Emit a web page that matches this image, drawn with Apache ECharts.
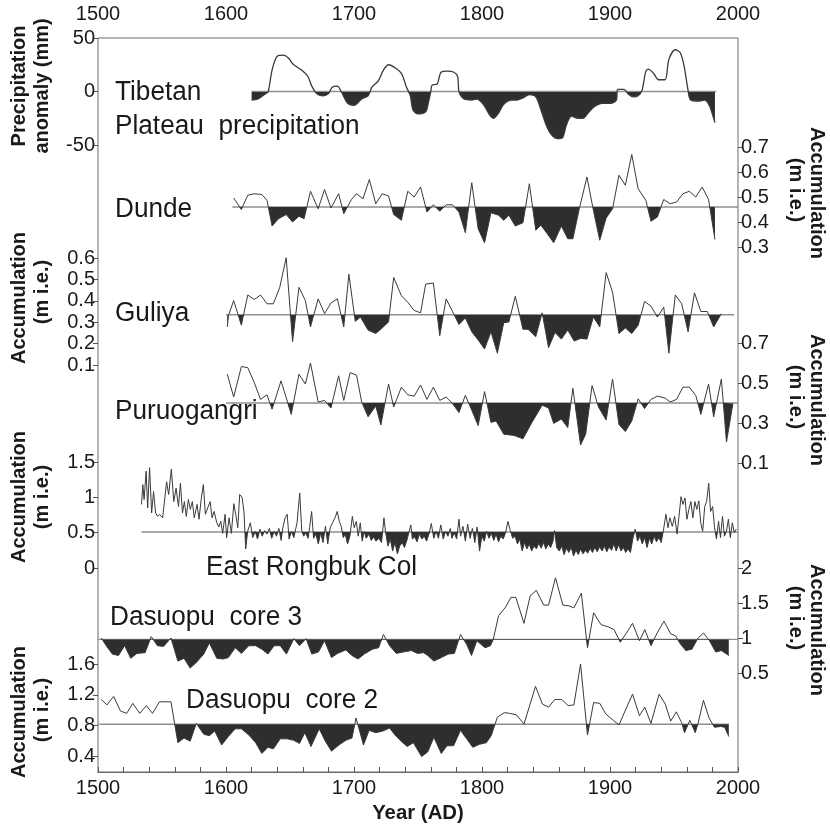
<!DOCTYPE html>
<html><head><meta charset="utf-8">
<script src="https://cdn.jsdelivr.net/npm/echarts@6/dist/echarts.min.js"></script>
<style>html,body{margin:0;padding:0;background:#fff}#c{width:830px;height:827px}</style>
</head><body><div id="c"></div>
<script>
// ---------------- DATA (year, value) ----------------
const tibetan = [[1620,-8],[1625,-7],[1631,-2],[1633,0],[1636,20],[1640,33],[1645,34],[1649,31],[1652,26],[1659,20],[1664,14],[1667,5],[1671,-2],[1676,-4],[1680,-2],[1683,4],[1687,5],[1690,0],[1695,-11],[1700,-13],[1706,-7],[1711,-4],[1714,4],[1719,10],[1723,20],[1727,25],[1731,23],[1737,17],[1741,4],[1744,-4],[1746,-17],[1750,-21],[1756,-19],[1758,-11],[1760,0],[1761,6],[1765,7],[1768,18],[1773,19],[1778,18],[1781,14],[1782,0],[1786,-7],[1792,-8],[1796,-7],[1801,-12],[1806,-22],[1809,-25],[1813,-20],[1817,-12],[1823,-8],[1827,-8],[1832,-6],[1837,-3],[1842,-5],[1846,-17],[1850,-31],[1854,-40],[1859,-44],[1863,-43],[1866,-31],[1870,-23],[1875,-25],[1879,-25],[1883,-20],[1888,-14],[1894,-11],[1901,-11],[1905,-8],[1906,2],[1911,2],[1914,-2],[1918,-5],[1922,-4],[1925,1],[1928,19],[1930,21],[1934,17],[1938,11],[1943,11],[1946,30],[1951,39],[1955,36],[1958,23],[1961,1],[1963,-8],[1969,-9],[1974,-8],[1978,-14],[1982,-29]];

const dunde = [[1606,0.496],[1612,0.45],[1617,0.507],[1622,0.513],[1628,0.51],[1632,0.487],[1636,0.384],[1641,0.413],[1647,0.43],[1652,0.40],[1657,0.423],[1661,0.413],[1666,0.523],[1672,0.453],[1677,0.53],[1682,0.456],[1688,0.513],[1692,0.433],[1698,0.49],[1702,0.513],[1707,0.493],[1712,0.57],[1717,0.473],[1722,0.513],[1727,0.504],[1731,0.43],[1737,0.407],[1742,0.523],[1747,0.5],[1752,0.54],[1757,0.44],[1762,0.469],[1767,0.443],[1772,0.469],[1777,0.469],[1782,0.44],[1787,0.357],[1792,0.557],[1797,0.373],[1802,0.317],[1807,0.437],[1813,0.427],[1817,0.407],[1821,0.427],[1826,0.384],[1832,0.397],[1837,0.553],[1842,0.367],[1846,0.387],[1851,0.353],[1856,0.317],[1862,0.384],[1867,0.333],[1871,0.333],[1876,0.453],[1882,0.58],[1887,0.447],[1892,0.327],[1897,0.416],[1902,0.453],[1907,0.587],[1912,0.547],[1917,0.67],[1922,0.533],[1928,0.487],[1932,0.403],[1937,0.42],[1942,0.49],[1947,0.473],[1952,0.48],[1957,0.513],[1962,0.523],[1967,0.5],[1972,0.54],[1977,0.49],[1982,0.33]];

const guliya = [[1601,0.278],[1602,0.332],[1606,0.401],[1612,0.286],[1617,0.427],[1622,0.406],[1627,0.427],[1632,0.386],[1637,0.386],[1642,0.463],[1647,0.601],[1652,0.209],[1657,0.463],[1662,0.401],[1666,0.278],[1672,0.409],[1677,0.34],[1682,0.39],[1687,0.409],[1692,0.278],[1696,0.524],[1701,0.304],[1705,0.324],[1711,0.263],[1717,0.247],[1722,0.273],[1727,0.301],[1731,0.509],[1737,0.424],[1742,0.393],[1747,0.355],[1752,0.344],[1756,0.478],[1762,0.483],[1767,0.237],[1772,0.409],[1777,0.35],[1782,0.289],[1787,0.32],[1792,0.255],[1797,0.217],[1802,0.175],[1807,0.255],[1812,0.155],[1817,0.298],[1821,0.301],[1826,0.421],[1832,0.267],[1836,0.267],[1842,0.232],[1847,0.344],[1852,0.181],[1857,0.252],[1862,0.221],[1867,0.263],[1872,0.212],[1877,0.224],[1882,0.221],[1887,0.324],[1892,0.278],[1897,0.532],[1902,0.44],[1907,0.247],[1912,0.273],[1917,0.247],[1922,0.286],[1927,0.397],[1932,0.375],[1937,0.324],[1942,0.37],[1946,0.155],[1951,0.427],[1956,0.386],[1961,0.255],[1966,0.437],[1971,0.35],[1976,0.35],[1981,0.278],[1987,0.34]];

const puruogangri = [[1601,0.544],[1606,0.43],[1612,0.582],[1617,0.577],[1622,0.503],[1627,0.418],[1632,0.441],[1636,0.369],[1643,0.511],[1651,0.343],[1657,0.544],[1662,0.495],[1666,0.60],[1672,0.405],[1677,0.413],[1682,0.375],[1688,0.536],[1692,0.413],[1697,0.552],[1702,0.539],[1706,0.405],[1711,0.331],[1717,0.385],[1721,0.29],[1727,0.495],[1731,0.38],[1737,0.479],[1742,0.441],[1747,0.434],[1752,0.49],[1757,0.418],[1762,0.479],[1767,0.413],[1772,0.43],[1777,0.397],[1782,0.352],[1787,0.438],[1792,0.364],[1797,0.287],[1802,0.457],[1807,0.303],[1811,0.31],[1817,0.244],[1825,0.238],[1832,0.221],[1839,0.303],[1847,0.389],[1852,0.375],[1856,0.298],[1862,0.32],[1867,0.277],[1871,0.474],[1877,0.19],[1881,0.244],[1886,0.487],[1891,0.38],[1897,0.315],[1902,0.52],[1907,0.293],[1912,0.257],[1917,0.31],[1922,0.421],[1927,0.372],[1932,0.418],[1937,0.434],[1943,0.425],[1947,0.405],[1952,0.418],[1957,0.479],[1962,0.479],[1967,0.438],[1971,0.343],[1977,0.495],[1981,0.331],[1987,0.52],[1991,0.205],[1996,0.397]];

const rongbuk = [[1534,0.90],[1535,1.18],[1536,0.97],[1537.6,1.37],[1538.8,0.85],[1540.3,1.42],[1541.9,0.78],[1543.4,1.08],[1545,0.78],[1546.5,0.73],[1548,0.76],[1550.5,0.71],[1551.8,0.69],[1553.6,1.22],[1555.2,1.04],[1557.3,1.40],[1559.2,0.94],[1561,1.13],[1562.9,0.87],[1564.4,1.20],[1566,0.78],[1567.5,0.94],[1569,0.73],[1570.6,0.97],[1572.1,0.83],[1573.7,0.94],[1575.2,0.71],[1577.4,0.90],[1578.9,0.69],[1580.8,1.0],[1582.3,1.18],[1583.9,0.76],[1585.7,0.85],[1587.6,0.94],[1589.1,0.71],[1590.7,0.80],[1592.8,0.64],[1594.4,0.58],[1595.9,0.66],[1597.4,0.49],[1599.3,0.76],[1600.5,0.43],[1602.4,0.71],[1604.2,0.49],[1606.1,0.91],[1607.6,0.76],[1609.2,0.57],[1610.7,1.04],[1612.6,1.0],[1614.1,0.78],[1615.4,0.27],[1616.9,0.52],[1619,0.64],[1620.9,0.43],[1622.8,0.52],[1624.6,0.41],[1626.5,0.55],[1628.3,0.45],[1630.2,0.53],[1632,0.48],[1633.9,0.56],[1635.7,0.42],[1637.6,0.52],[1639.4,0.45],[1641.3,0.56],[1643.1,0.39],[1644.4,0.57],[1646.2,0.71],[1647.8,0.76],[1649.3,0.41],[1651.2,0.52],[1653,0.43],[1655.5,0.64],[1657.6,1.06],[1659.2,0.52],[1660.7,0.45],[1662.3,0.50],[1664.1,0.42],[1665.3,0.57],[1666.9,0.80],[1668.4,0.42],[1670.3,0.48],[1672.1,0.34],[1674,0.50],[1675.8,0.36],[1677.7,0.59],[1679.5,0.34],[1681.4,0.57],[1683.2,0.64],[1685.4,0.72],[1686.9,0.80],[1688.5,0.66],[1690,0.59],[1691.6,0.43],[1693.1,0.48],[1695,0.34],[1696.8,0.45],[1698.7,0.73],[1700.2,0.57],[1701.8,0.66],[1703.3,0.45],[1704.9,0.64],[1706.4,0.38],[1708,0.52],[1709.5,0.42],[1711.7,0.48],[1713.5,0.39],[1715.4,0.44],[1717.2,0.38],[1719.4,0.42],[1721.5,0.36],[1723.4,0.71],[1724.6,0.52],[1726.5,0.31],[1728.3,0.41],[1730.2,0.24],[1732,0.36],[1733.9,0.20],[1735.7,0.31],[1737.6,0.36],[1739.4,0.29],[1741.3,0.39],[1743.1,0.52],[1744.4,0.61],[1745.6,0.41],[1747.4,0.44],[1749.3,0.37],[1751.1,0.48],[1753,0.41],[1754.9,0.45],[1756.7,0.38],[1758.6,0.48],[1760.4,0.63],[1762.3,0.42],[1764.1,0.52],[1766,0.42],[1767.8,0.61],[1769.7,0.41],[1771.5,0.52],[1773.4,0.45],[1775.2,0.56],[1776.5,0.42],[1778.3,0.50],[1780.2,0.41],[1782,0.69],[1783.3,0.45],[1785.1,0.59],[1787,0.38],[1788.8,0.62],[1790.7,0.42],[1792.5,0.56],[1794.4,0.36],[1796.2,0.58],[1798.1,0.24],[1799.9,0.45],[1801.8,0.38],[1803.6,0.52],[1805.5,0.42],[1807.3,0.49],[1809.2,0.39],[1811,0.48],[1812.9,0.37],[1814.7,0.45],[1816.6,0.41],[1818.4,0.50],[1820.3,0.66],[1822.1,0.53],[1824,0.42],[1825.8,0.45],[1827.7,0.34],[1829.5,0.41],[1831.4,0.24],[1833.2,0.36],[1835.1,0.27],[1836.9,0.34],[1838.8,0.24],[1840.6,0.31],[1842.5,0.27],[1844.4,0.35],[1846.2,0.28],[1848.1,0.36],[1849.9,0.27],[1851.8,0.34],[1853.6,0.29],[1855.5,0.38],[1856.7,0.53],[1858.3,0.29],[1860.4,0.24],[1862.3,0.31],[1864.1,0.19],[1866,0.28],[1867.8,0.22],[1869.7,0.29],[1871.5,0.17],[1873.4,0.25],[1875.2,0.19],[1877.1,0.27],[1878.9,0.20],[1880.8,0.25],[1882.6,0.21],[1884.5,0.28],[1886.3,0.22],[1888.2,0.29],[1890,0.23],[1891.9,0.30],[1893.8,0.24],[1895.6,0.31],[1897.5,0.23],[1899.3,0.30],[1901.2,0.25],[1903,0.34],[1904.9,0.24],[1906.7,0.33],[1908.6,0.24],[1910.4,0.29],[1912.3,0.22],[1914.1,0.27],[1916,0.22],[1917.8,0.41],[1919.7,0.55],[1921.5,0.38],[1923.4,0.45],[1925.2,0.34],[1927.1,0.43],[1928.9,0.29],[1930.8,0.42],[1932.6,0.34],[1934.5,0.45],[1936.3,0.37],[1938.2,0.43],[1940,0.36],[1941.9,0.55],[1943.7,0.76],[1945.3,0.57],[1946.8,0.71],[1948.7,0.59],[1950.5,0.73],[1952.4,0.48],[1953.9,0.73],[1955.5,1.01],[1957,0.90],[1958.6,0.99],[1960.1,0.69],[1961.6,0.83],[1963.2,0.94],[1964.7,0.71],[1966.3,0.94],[1967.8,0.83],[1969.4,0.95],[1970.9,0.64],[1972.4,0.52],[1974,0.87],[1975.5,0.94],[1977.1,1.20],[1978.6,0.80],[1980.2,0.87],[1981.7,0.57],[1983.2,0.41],[1984.8,0.66],[1986.3,0.43],[1987.9,0.73],[1989.4,0.45],[1991,0.52],[1992.5,0.69],[1994,0.43],[1995.6,0.64],[1997.1,0.50],[1998.7,0.55]];

const dasuopu3 = [[1502.6,1.0],[1506.4,0.89],[1511.2,0.77],[1516,0.75],[1520.8,0.89],[1525.6,0.71],[1530.4,0.78],[1536.8,0.79],[1541.6,1.02],[1546.4,0.89],[1551.2,0.88],[1557,1.0],[1562.4,0.67],[1567.2,0.71],[1572,0.57],[1576.8,0.65],[1582.6,0.77],[1587,0.93],[1592.8,0.71],[1597.6,0.70],[1601.8,0.72],[1607.2,0.86],[1612,0.78],[1617.8,0.89],[1623.2,0.89],[1628,0.84],[1632.8,0.77],[1637.6,0.89],[1642.4,0.89],[1647.2,0.77],[1653,0.99],[1657.4,0.89],[1662.6,0.99],[1667,0.77],[1672.2,0.80],[1677,0.96],[1682.4,0.72],[1687.2,0.78],[1693.6,0.83],[1698.4,0.75],[1703.2,0.70],[1708,0.77],[1714.4,0.84],[1719.2,0.86],[1723,1.05],[1727.8,0.89],[1733,0.78],[1738.4,0.80],[1744.8,0.82],[1749.6,0.78],[1754.4,0.79],[1757.6,0.75],[1762.4,0.67],[1768.2,0.72],[1773.6,0.77],[1778.4,0.78],[1783.2,1.05],[1788,0.91],[1791.8,0.75],[1796,0.96],[1802.4,0.86],[1806.6,0.89],[1808.8,0.98],[1813,1.32],[1818.4,1.44],[1822.6,1.58],[1826.4,1.58],[1832.8,1.21],[1837.6,1.60],[1842.4,1.68],[1848.2,1.47],[1852,1.47],[1857.4,1.86],[1863.2,1.47],[1868,1.46],[1871.8,1.43],[1877.6,1.64],[1882.4,0.86],[1887.2,1.36],[1893,1.19],[1898.4,1.16],[1903.2,1.12],[1908,0.94],[1912.8,1.07],[1917.6,1.21],[1923,0.96],[1927.2,1.12],[1932,0.89],[1936.8,1.07],[1942.2,1.24],[1947.4,1.06],[1951.2,1.03],[1954.4,0.93],[1959.2,0.82],[1964,0.84],[1968.8,1.0],[1973,1.07],[1977.4,0.97],[1982.6,0.80],[1987,0.82],[1992.8,0.75]];

const dasuopu2 = [[1502.6,1.14],[1507,1.07],[1512.2,1.18],[1517.6,0.99],[1522.4,0.96],[1527.2,1.09],[1532.6,0.96],[1537.8,1.06],[1542.6,0.96],[1548,1.11],[1557,1.11],[1562.4,0.58],[1567.2,0.64],[1572,0.60],[1576.8,0.83],[1582.6,0.69],[1587,0.67],[1591.2,0.73],[1596.6,0.55],[1601.8,0.66],[1607.2,0.76],[1612,0.76],[1617.8,0.68],[1623.2,0.58],[1628,0.44],[1632.8,0.52],[1637,0.50],[1642.4,0.63],[1647.8,0.63],[1653,0.61],[1657.4,0.57],[1661.6,0.71],[1666.4,0.53],[1672.8,0.76],[1677.6,0.60],[1682.4,0.47],[1688.2,0.55],[1693.6,0.61],[1698.4,0.64],[1701.6,0.90],[1707.4,0.55],[1711.8,0.74],[1717,0.71],[1722.4,0.73],[1727.8,0.77],[1732,0.68],[1736.8,0.60],[1741.6,0.53],[1746.4,0.58],[1752.8,0.40],[1757.6,0.46],[1762.4,0.65],[1768.2,0.44],[1772.6,0.54],[1777.8,0.54],[1783.2,0.74],[1788,0.63],[1792.8,0.52],[1798.2,0.56],[1803.4,0.58],[1807.2,0.67],[1812,0.91],[1817.4,0.97],[1821.6,0.96],[1827,0.94],[1832.8,0.82],[1841.8,1.31],[1847.2,1.08],[1852,1.04],[1856.8,1.14],[1862.2,1.14],[1867.4,1.06],[1871.8,1.07],[1877,1.6],[1882.4,0.68],[1887.2,1.10],[1892,1.09],[1896.8,0.95],[1902.6,0.87],[1907,0.81],[1912.8,1.03],[1917.6,1.21],[1923,0.93],[1927.2,1.04],[1932,0.83],[1938.4,1.21],[1943.2,1.08],[1947.4,0.86],[1951.8,0.98],[1956,0.84],[1958.2,0.71],[1962.4,0.87],[1966.6,0.71],[1968.8,0.83],[1973,1.13],[1977.4,0.90],[1981.6,0.78],[1986.4,0.79],[1989.6,0.78],[1992.8,0.66]];

// reference (mean) levels and the years over which each reference line is drawn
const baseValues = [0, 0.46, 0.335, 0.40, 0.51, 0.98, 0.82];
const baseSpans = [[1620,1983],[1605,2000],[1600,1997],[1600,2000],[1534,2000],[1500,2000],[1500,1993]];
const seriesNames = ['Tibetan Plateau precipitation','Dunde','Guliya','Puruogangri','East Rongbuk Col','Dasuopu core 3','Dasuopu core 2'];
const tickValues = [[-50,0,50],[0.3,0.4,0.5,0.6,0.7],[0.1,0.2,0.3,0.4,0.5,0.6],[0.1,0.3,0.5,0.7],[0,0.5,1,1.5],[0.5,1,1.5,2],[0.4,0.8,1.2,1.6]];
const yearTicksMajor = [1500,1600,1700,1800,1900,2000];
// ----------------------------------------------------

const allData = [tibetan, dunde, guliya, puruogangri, rongbuk, dasuopu3, dasuopu2];

// layout (pixel geometry only)
const L = 98, R = 92, FRAME_TOP = 38, FRAME_BOTTOM = 772;
const layout = [
  {top:38,  height:107, min:-50, max:50,  pos:'left'},
  {top:147, height:100, min:0.3, max:0.7, pos:'right'},
  {top:258, height:107, min:0.1, max:0.6, pos:'left'},
  {top:343, height:120, min:0.1, max:0.7, pos:'right'},
  {top:462, height:106, min:0,   max:1.5, pos:'left'},
  {top:568, height:105, min:0.5, max:2,   pos:'right'},
  {top:664, height:108, min:0.2, max:1.6, pos:'left'}
];

const TXT = '#1a1a1a', LINE = '#3a3a3a', FILL = '#2e2e2e', BASE = '#8f8f8f';
const SANS = '"Liberation Sans", Arial, sans-serif';
const tickFont = {fontFamily:SANS, fontSize:20, color:TXT};

const grid = [], xAxis = [], yAxis = [], series = [], visualMap = [];
layout.forEach((g, i) => {
  grid.push({left:L, right:R, top:g.top, height:g.height, outerBoundsMode:'none', containLabel:false});
  xAxis.push({gridIndex:i, type:'value', min:1500, max:2000, show:false});
  yAxis.push({
    gridIndex:i, type:'value', position:g.pos, min:g.min, max:g.max,
    axisLine:{show:false}, splitLine:{show:false},
    axisTick:{show:true, length:5, customValues:tickValues[i], lineStyle:{color:'#555', width:1}},
    axisLabel:Object.assign({customValues:tickValues[i], margin:3,
      formatter:v => String(Math.round(v*100)/100)}, tickFont)
  });
  series.push({
    name:seriesNames[i], type:'line', xAxisIndex:i, yAxisIndex:i,
    data:allData[i], symbol:'none', clip:false,
    smooth: i === 0 ? 0.3 : false,
    lineStyle:{color:LINE, width: i === 0 ? 1.3 : 1},
    areaStyle:{origin:baseValues[i], opacity:1},
    z:3
  });
  series.push({
    type:'line', xAxisIndex:i, yAxisIndex:i, symbol:'none', silent:true,
    data:[[baseSpans[i][0], baseValues[i]], [baseSpans[i][1], baseValues[i]]],
    lineStyle:{color:BASE, width:1.4}, z:2
  });
  visualMap.push({
    type:'piecewise', show:false, seriesIndex:2*i, dimension:1,
    pieces:[{gte:-1000, lt:baseValues[i], color:FILL}, {gte:baseValues[i], lte:1000, color:'rgba(46,46,46,0)'}],
    outOfRange:{color:'rgba(46,46,46,0)'}
  });
});

// frame grid carrying the shared year axes
const fi = layout.length;
grid.push({left:L, right:R, top:FRAME_TOP, bottom:827 - FRAME_BOTTOM, show:true, borderColor:'#6a6a6a', borderWidth:1,
  backgroundColor:'transparent', outerBoundsMode:'none', containLabel:false});
const yearFmt = v => (yearTicksMajor.indexOf(v) >= 0 ? String(v) : '');
xAxis.push({gridIndex:fi, type:'value', position:'top', min:1500, max:2000, interval:20,
  axisLine:{show:true, lineStyle:{color:'#6a6a6a'}}, splitLine:{show:false},
  axisTick:{show:true, inside:false, length:5, lineStyle:{color:'#555'}},
  axisLabel:Object.assign({formatter:yearFmt, margin:14, showMinLabel:true, showMaxLabel:true}, tickFont)});
xAxis.push({gridIndex:fi, type:'value', position:'bottom', min:1500, max:2000, interval:20,
  axisLine:{show:true, lineStyle:{color:'#6a6a6a'}}, splitLine:{show:false},
  axisTick:{show:true, inside:true, length:5, lineStyle:{color:'#555'}},
  axisLabel:Object.assign({formatter:yearFmt, margin:6, showMinLabel:true, showMaxLabel:true}, tickFont)});
yAxis.push({gridIndex:fi, type:'value', show:false, min:0, max:1});

// texts
const lab = (t, x, y) => ({type:'text', x, y, scaleX:0.97,
  style:{text:t, fill:TXT, font:'27px ' + SANS, verticalAlign:'middle', align:'left'}});
const ttl = (t, x, y, left) => ({type:'text', x, y, scaleX:0.95, rotation: left ? Math.PI/2 : -Math.PI/2,
  style:{text:t, fill:TXT, font:'bold 21px ' + SANS, align:'center', verticalAlign:'middle'}});

const graphic = [
  lab('Tibetan', 115, 93), lab('Plateau  precipitation', 115, 127),
  lab('Dunde', 115, 210), lab('Guliya', 115, 314), lab('Puruogangri', 115, 412),
  lab('East Rongbuk Col', 206, 568), lab('Dasuopu  core 3', 110, 618), lab('Dasuopu  core 2', 186, 701),
  ttl('Precipitation', 19, 86, true), ttl('anomaly (mm)', 42, 86, true),
  ttl('Accumulation', 817, 193, false), ttl('(m i.e.)', 796, 190, false),
  ttl('Accumulation', 19, 298, true), ttl('(m i.e.)', 42, 292, true),
  ttl('Accumulation', 817, 400, false), ttl('(m i.e.)', 796, 397, false),
  ttl('Accumulation', 19, 497, true), ttl('(m i.e.)', 42, 497, true),
  ttl('Accumulation', 817, 630, false), ttl('(m i.e.)', 796, 618, false),
  ttl('Accumulation', 19, 712, true), ttl('(m i.e.)', 42, 710, true),
  {type:'text', x:418, y:813, scaleX:0.97,
   style:{text:'Year (AD)', fill:TXT, font:'bold 21px ' + SANS, align:'center', verticalAlign:'middle'}}
];

const chart = echarts.init(document.getElementById('c'), null, {renderer:'canvas'});
chart.setOption({animation:false, backgroundColor:'#fff', grid, xAxis, yAxis, series, visualMap, graphic});
</script></body></html>
